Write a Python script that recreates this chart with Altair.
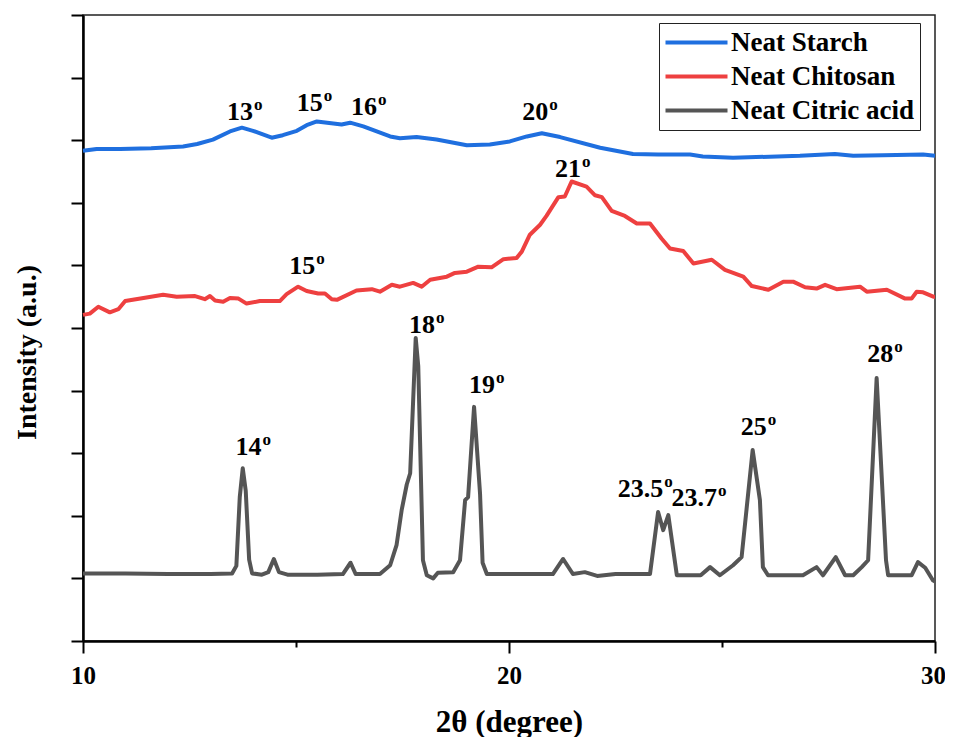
import altair as alt
import pandas as pd

FONT = "'Liberation Serif', 'Times New Roman', Times, serif"

series_names = ["Neat Starch", "Neat Chitosan", "Neat Citric acid"]
series_colors = ["#1F6FDF", "#EE4040", "#555555"]

starch_x = [10.0, 10.32, 10.87, 11.6, 12.35, 12.68, 13.05, 13.45, 13.73, 13.99, 14.43, 14.69,
            15.02, 15.25, 15.49, 16.07, 16.27, 16.58, 17.21, 17.44, 17.83, 18.30, 19.01, 19.55,
            20.02, 20.42, 20.77, 21.20, 22.14, 22.91, 23.5, 24.25, 24.55, 25.26, 26.83, 27.65,
            28.08, 28.78, 29.72, 30.0]
starch_y = [7.83, 7.86, 7.86, 7.87, 7.90, 7.94, 8.01, 8.14, 8.20, 8.15, 8.04, 8.08,
            8.15, 8.24, 8.30, 8.25, 8.28, 8.22, 8.06, 8.03, 8.05, 8.01, 7.92, 7.93,
            7.98, 8.06, 8.11, 8.05, 7.88, 7.78, 7.77, 7.77, 7.74, 7.72, 7.75, 7.78,
            7.75, 7.76, 7.77, 7.75]

chitosan_x = [10.00, 10.16, 10.36, 10.63, 10.83, 10.99, 11.42, 11.88, 12.20, 12.63, 12.86, 12.98,
              13.10, 13.29, 13.45, 13.65, 13.84, 14.15, 14.62, 14.78, 15.05, 15.25, 15.52, 15.68,
              15.84, 15.96, 16.42, 16.78, 16.97, 17.25, 17.44, 17.75, 17.95, 18.15, 18.54, 18.73,
              19.01, 19.28, 19.59, 19.87, 20.18, 20.30, 20.49, 20.73, 20.88, 21.16, 21.31, 21.47,
              21.82, 22.02, 22.18, 22.41, 22.72, 23.00, 23.31, 23.58, 23.78, 24.09, 24.33, 24.76,
              25.07, 25.50, 25.70, 26.09, 26.44, 26.67, 26.95, 27.22, 27.42, 27.69, 28.24, 28.40,
              28.87, 29.30, 29.45, 29.57, 29.72, 29.96, 30.0]
chitosan_y = [5.21, 5.23, 5.34, 5.25, 5.30, 5.43, 5.48, 5.53, 5.50, 5.51, 5.46, 5.51,
              5.44, 5.42, 5.48, 5.47, 5.39, 5.43, 5.43, 5.54, 5.66, 5.59, 5.55, 5.55,
              5.46, 5.45, 5.60, 5.62, 5.58, 5.69, 5.66, 5.72, 5.66, 5.77, 5.82, 5.88,
              5.90, 5.98, 5.97, 6.10, 6.12, 6.22, 6.49, 6.65, 6.79, 7.09, 7.10, 7.34,
              7.26, 7.12, 7.09, 6.87, 6.79, 6.67, 6.67, 6.43, 6.27, 6.23, 6.03, 6.09,
              5.93, 5.82, 5.67, 5.61, 5.74, 5.74, 5.65, 5.63, 5.69, 5.62, 5.66, 5.58,
              5.61, 5.47, 5.47, 5.58, 5.57, 5.50, 5.50]

citric_x = [10.0, 11.0, 12.0, 13.0, 13.5, 13.6, 13.68, 13.75, 13.82, 13.9, 13.97, 14.2,
            14.35, 14.48, 14.6, 14.8, 15.5, 16.1, 16.28, 16.4, 16.97, 17.21, 17.36, 17.48,
            17.6, 17.68, 17.81, 17.87, 17.98, 18.07, 18.22, 18.33, 18.69, 18.85, 18.97, 19.04,
            19.18, 19.32, 19.38, 19.48, 20.0, 21.03, 21.27, 21.5, 21.78, 22.07, 22.5, 23.0,
            23.31, 23.5, 23.62, 23.74, 23.94, 24.5, 24.72, 24.95, 25.26, 25.46, 25.72, 25.89,
            25.96, 26.08, 26.9, 27.22, 27.37, 27.67, 27.89, 28.08, 28.28, 28.43, 28.63, 28.85,
            28.9, 29.45, 29.6, 29.77, 29.95, 30.0]
citric_y = [1.08, 1.08, 1.07, 1.07, 1.08, 1.2, 2.3, 2.76, 2.4, 1.3, 1.08, 1.06,
            1.1, 1.31, 1.1, 1.06, 1.06, 1.07, 1.25, 1.07, 1.07, 1.21, 1.53, 2.09,
            2.5, 2.68, 4.84, 4.39, 1.29, 1.05, 1.0, 1.09, 1.10, 1.29, 2.25, 2.30,
            3.74, 2.36, 1.25, 1.07, 1.07, 1.07, 1.31, 1.07, 1.10, 1.04, 1.07, 1.07,
            1.07, 2.06, 1.77, 2.01, 1.05, 1.05, 1.18, 1.05, 1.21, 1.34, 3.05, 2.25,
            1.18, 1.05, 1.05, 1.18, 1.05, 1.34, 1.05, 1.05, 1.18, 1.29, 4.2, 1.29,
            1.05, 1.05, 1.26, 1.17, 0.97, 0.95]

label_text = ["13", "15", "16", "20", "21", "15", "14", "18", "19", "23.5", "23.7", "25", "28"]
label_x = [13.99, 15.63, 16.90, 20.92, 21.69, 15.45, 14.19, 18.26, 19.67, 23.62, 24.88, 26.05, 29.02]
label_y = [8.32, 8.46, 8.41, 8.32, 7.41, 5.86, 2.97, 4.92, 3.96, 2.30, 2.15, 3.29, 4.46]

x_tick_values = [10, 15, 20, 25, 30]
y_tick_values = [i * 0.5 for i in range(21)]

rows = []
for name, xs, ys in zip(series_names, [starch_x, chitosan_x, citric_x], [starch_y, chitosan_y, citric_y]):
    for a, b in zip(xs, ys):
        rows.append({"theta": a, "intensity": b, "series": name})
df = pd.DataFrame(rows)
lab = pd.DataFrame({"theta": label_x, "intensity": label_y, "text": label_text})

xscale = alt.Scale(domain=[10, 30], nice=False, zero=False)
yscale = alt.Scale(domain=[0, 10], nice=False, zero=False)

x_axis = alt.Axis(
    values=x_tick_values,
    labelExpr="datum.value % 10 === 0 ? datum.label : ''",
    tickSize={"condition": {"test": "datum.value % 10 === 0", "value": 12}, "value": 6},
    labelOffset={"condition": {"test": "datum.value === 30", "value": -2}, "value": 0},
    tickWidth=2, tickColor="black", domainColor="black", domainWidth=2.5,
    labelFont=FONT, labelFontSize=25, labelFontWeight="bold", labelColor="black",
    labelPadding=10, labelFlush=False, grid=False,
    titleFont=FONT, titleFontSize=31, titleFontWeight="bold", titleColor="black",
    titleBaseline="alphabetic", titleY=90,
)
y_axis = alt.Axis(
    values=y_tick_values, labels=False,
    tickSize={"condition": {"test": "datum.value % 1 === 0", "value": 12}, "value": 7},
    tickWidth=2, tickColor="black", domainColor="black", domainWidth=2.5, grid=False,
    titleFont=FONT, titleFontSize=28, titleFontWeight="bold", titleColor="black",
    titleBaseline="alphabetic", titleAlign="center", titleAngle=-90, titleX=-48, titleY=337,
)

lines = alt.Chart(df).mark_line(strokeWidth=4, strokeJoin="round").encode(
    x=alt.X("theta:Q", scale=xscale, axis=x_axis, title="2θ (degree)"),
    y=alt.Y("intensity:Q", scale=yscale, axis=y_axis, title="Intensity (a.u.)"),
    color=alt.Color(
        "series:N",
        scale=alt.Scale(domain=series_names, range=series_colors),
        sort=series_names,
        legend=alt.Legend(
            title=None, orient="none", legendX=576, legendY=8,
            symbolType="M-3.1,0H3.1", symbolSize=400, symbolStrokeWidth=4,
            symbolOffset=18, labelOffset=21,
            labelFont=FONT, labelFontSize=27, labelFontWeight="bold", labelColor="black",
            labelLimit=400, rowPadding=6, padding=6,
            strokeColor="#222222", fillColor="white",
        ),
    ),
    detail="series:N",
)

nums = alt.Chart(lab).mark_text(
    font=FONT, fontSize=26, fontWeight="bold", color="black", align="right", baseline="alphabetic"
).encode(
    x=alt.X("theta:Q", scale=xscale),
    y=alt.Y("intensity:Q", scale=yscale),
    text="text:N",
)

sups = alt.Chart(lab).mark_text(
    font=FONT, fontSize=17, fontWeight="bold", color="black", align="left", baseline="alphabetic",
    dx=1, dy=-10,
).encode(
    x=alt.X("theta:Q", scale=xscale),
    y=alt.Y("intensity:Q", scale=yscale),
    text=alt.value("o"),
)

chart = alt.layer(lines, nums, sups).properties(
    width=852, height=626,
    autosize=alt.AutoSizeParams(type="none"),
    padding={"left": 75, "top": 7, "right": 10, "bottom": 96},
    background="white",
).configure_view(stroke="#222222", strokeWidth=1.5)

chart.save("out.html", embed_options={"renderer": "svg", "actions": False})
